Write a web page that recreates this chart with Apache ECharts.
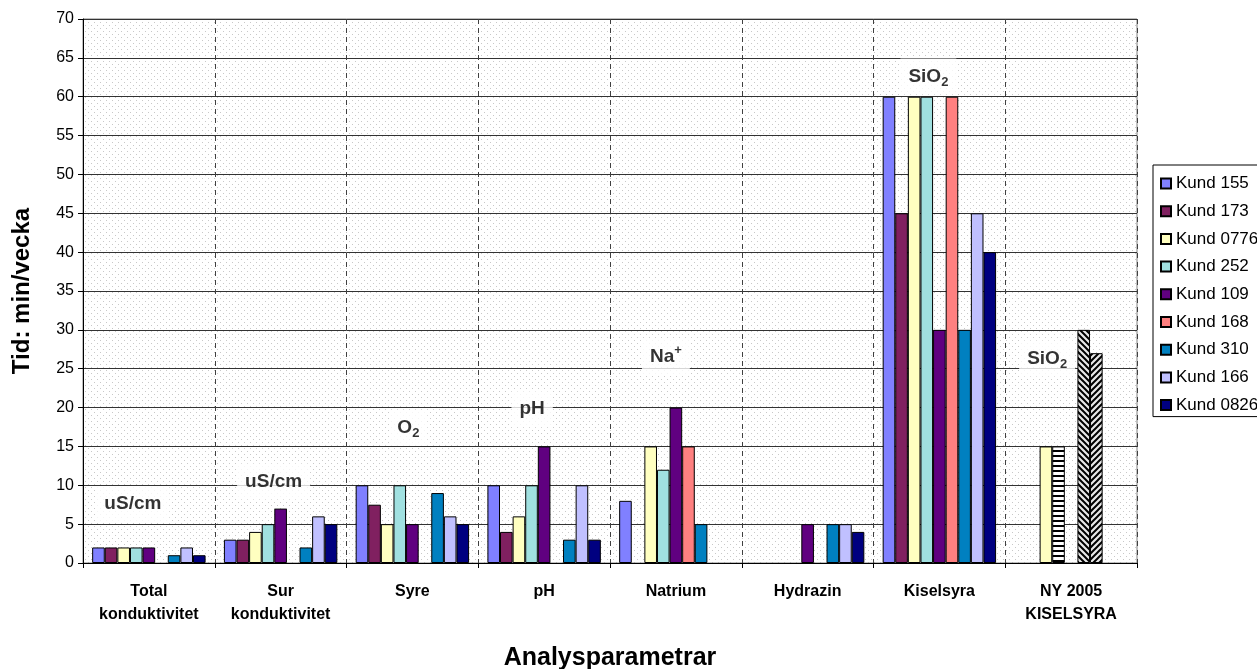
<!DOCTYPE html>
<html>
<head>
<meta charset="utf-8">
<script src="https://cdn.jsdelivr.net/npm/echarts@6/dist/echarts.min.js"></script>
<style>
html,body{margin:0;padding:0;background:#fff;}
#chart{width:1257px;height:669px;}
</style>
</head>
<body>
<div id="chart"></div>
<script>
// ---- data ----
const categories = ['Total\nkonduktivitet', 'Sur\nkonduktivitet', 'Syre', 'pH', 'Natrium', 'Hydrazin', 'Kiselsyra', 'NY 2005\nKISELSYRA'];
const seriesNames = ['Kund 155', 'Kund 173', 'Kund 0776', 'Kund 252', 'Kund 109', 'Kund 168', 'Kund 310', 'Kund 166', 'Kund 0826'];
const kund155  = [2, 3, 10, 10, 8, null, 60, null];
const kund173  = [2, 3, 7.5, 4, null, null, 45, null];
const kund0776 = [2, 4, 5, 6, 15, null, 60, 15];
const kund252  = [2, 5, 10, 10, 12, null, 60, 15];
const kund109  = [2, 7, 5, 15, 20, 5, 30, null];
const kund168  = [null, null, null, null, 15, null, 60, 30];
const kund310  = [1, 2, 9, 3, 5, 5, 30, 27];
const kund166  = [2, 6, 6, 10, null, 5, 45, null];
const kund0826 = [1, 5, 5, 3, null, 4, 40, null];
const seriesValues = [kund155, kund173, kund0776, kund252, kund109, kund168, kund310, kund166, kund0826];
const yTicks = {min: 0, max: 70, interval: 5};
// annotation texts: [categoryIndex, yValue, text]
const annotations = [
  [0, 7.6, 'uS/cm'],
  [1, 10.5, 'uS/cm'],
  [2, 17.4, 'O{s|2}'],
  [3, 19.8, 'pH'],
  [4, 26.6, 'Na{p|+}'],
  [6, 62.6, 'SiO{s|2}'],
  [7, 26.3, 'SiO{s|2}']
];
const annotationShift = [-16, -7, -4, -12, -10, -11, -24];

// ---- styles ----
const colors = ['#8080FF', '#802060', '#FFFFC0', '#A0E0E0', '#600080', '#FF8080', '#0080C0', '#C0C0FF', '#000080'];

function makeCanvas(w, h, draw) {
  const c = document.createElement('canvas');
  c.width = w; c.height = h;
  draw(c.getContext('2d'));
  return c;
}
const bgPattern = makeCanvas(6, 6, g => {
  g.fillStyle = '#ffffff'; g.fillRect(0, 0, 6, 6);
  g.fillStyle = '#c8c8c8';
  g.fillRect(1, 1, 1, 1); g.fillRect(4, 4, 1, 1);
});
const hStripe = makeCanvas(4, 5, g => {
  g.fillStyle = '#ffffff'; g.fillRect(0, 0, 4, 5);
  g.fillStyle = '#000000'; g.fillRect(0, 0, 4, 2);
});
function diag(dir) {
  return makeCanvas(6, 6, g => {
    g.fillStyle = '#e8e8e8'; g.fillRect(0, 0, 6, 6);
    g.strokeStyle = '#000'; g.lineWidth = 2;
    g.beginPath();
    if (dir > 0) {
      g.moveTo(-1, 7); g.lineTo(7, -1);
      g.moveTo(-4, 4); g.lineTo(4, -4);
      g.moveTo(2, 10); g.lineTo(10, 2);
    } else {
      g.moveTo(-1, -1); g.lineTo(7, 7);
      g.moveTo(-4, 2); g.lineTo(4, 10);
      g.moveTo(2, -4); g.lineTo(10, 4);
    }
    g.stroke();
  });
}
const patterns = {hs: hStripe, dA: diag(-1), dB: diag(1)};
// pattern fills used in the last category (index 7)
const patternMap = {'Kund 252': 'hs', 'Kund 168': 'dA', 'Kund 310': 'dB'};

const font = 'Liberation Sans, Arial, sans-serif';

const barSeries = seriesNames.map((name, i) => ({
  name: name,
  type: 'bar',
  barGap: '0%',
  barCategoryGap: '13.9%',
  itemStyle: {color: colors[i], borderColor: '#000', borderWidth: 1},
  data: seriesValues[i].map((v, ci) => {
    if (ci === 7 && patternMap[name] && v != null) {
      return {value: v, itemStyle: {color: {image: patterns[patternMap[name]], repeat: 'repeat'}}};
    }
    return v;
  })
}));

const labelSeries = {
  name: 'labels',
  type: 'scatter',
  symbolSize: 0,
  silent: true,
  z: 10,
  data: annotations.map((a, i) => ({
    value: [a[0], a[1]],
    label: {
      show: true,
      position: 'inside',
      offset: [annotationShift[i], 0],
      formatter: a[2],
      backgroundColor: '#ffffff',
      padding: [6, 8, 6, 8],
      color: '#000',
      fontFamily: font,
      fontWeight: 'bold',
      fontSize: 19,
      lineHeight: 24,
      rich: {
        s: {fontSize: 13, fontWeight: 'bold', lineHeight: 13, verticalAlign: 'bottom', fontFamily: font, color: '#000'},
        p: {fontSize: 13, fontWeight: 'bold', lineHeight: 13, verticalAlign: 'top', fontFamily: font, color: '#000'}
      }
    }
  }))
};

const chart = echarts.init(document.getElementById('chart'), null, {renderer: 'canvas'});
chart.setOption({
  animation: false,
  textStyle: {fontFamily: font},
  grid: {
    left: 83, right: 120, top: 19, bottom: 106,
    outerBoundsMode: 'none',
    containLabel: false,
    show: true,
    backgroundColor: {image: bgPattern, repeat: 'repeat'},
    borderColor: '#808080', borderWidth: 1
  },
  legend: {
    data: seriesNames,
    orient: 'vertical',
    left: 1153, top: 165,
    backgroundColor: '#fff',
    borderColor: '#000', borderWidth: 1,
    padding: [10, 30, 3, 7],
    icon: 'rect',
    itemWidth: 10, itemHeight: 10,
    itemGap: 10.7,
    textStyle: {fontSize: 17, color: '#000', fontFamily: font, lineHeight: 17}
  },
  xAxis: {
    type: 'category',
    data: categories,
    name: 'Analysparametrar',
    nameLocation: 'middle',
    nameGap: 83,
    nameTextStyle: {fontSize: 25, fontWeight: 'bold', color: '#000', fontFamily: font},
    axisLine: {lineStyle: {color: '#000', width: 1}},
    axisTick: {show: true, length: 5, lineStyle: {color: '#000'}},
    axisLabel: {interval: 0, fontSize: 16, fontWeight: 'bold', color: '#000', lineHeight: 23, margin: 17, fontFamily: font},
    splitLine: {show: true, lineStyle: {color: '#404040', type: [5, 4], width: 1}}
  },
  yAxis: {
    type: 'value',
    min: yTicks.min, max: yTicks.max, interval: yTicks.interval,
    name: 'Tid: min/vecka',
    nameLocation: 'middle',
    nameRotate: 90,
    nameGap: 49,
    nameTextStyle: {fontSize: 24, fontWeight: 'bold', color: '#000', fontFamily: font},
    axisLine: {show: true, lineStyle: {color: '#000', width: 1}},
    axisTick: {show: true, length: 5, lineStyle: {color: '#000'}},
    axisLabel: {fontSize: 16, color: '#000', margin: 9, fontFamily: font},
    splitLine: {show: true, lineStyle: {color: '#333', width: 1}}
  },
  series: barSeries.concat([labelSeries])
});
</script>
</body>
</html>
